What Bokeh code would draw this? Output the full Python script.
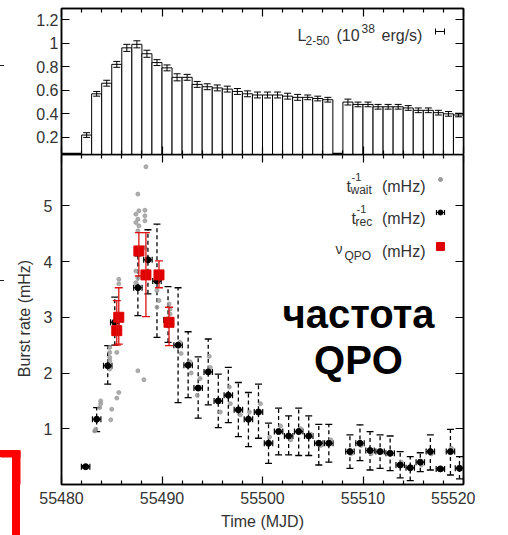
import math
from bokeh.plotting import figure
from bokeh.layouts import column, row
from bokeh.models import (ColumnDataSource, Whisker, TeeHead, Label, Div,
                          LinearAxis, FixedTicker, Range1d)
from bokeh.embed import file_html
from bokeh.resources import INLINE

# ---------------- data ----------------
x_ticks = [55480, 55490, 55500, 55510, 55520]
x_minor = [55482, 55484, 55486, 55488, 55492, 55494, 55496, 55498, 55502, 55504, 55506,
           55508, 55512, 55514, 55516, 55518]
top_ticks = [0.2, 0.4, 0.6, 0.8, 1.0, 1.2]
bot_ticks = [1, 2, 3, 4, 5]

lum_day = [55482.5, 55483.5, 55484.5, 55485.5, 55486.5, 55487.5, 55488.5, 55489.5,
           55490.5, 55491.5, 55492.5, 55493.5, 55494.5, 55495.5, 55496.5, 55497.5,
           55498.5, 55499.5, 55500.5, 55501.5, 55502.5, 55503.5, 55504.5, 55505.5,
           55506.5, 55508.5, 55509.5, 55510.5, 55511.5, 55512.5, 55513.5, 55514.5,
           55515.5, 55516.5, 55517.5, 55518.5, 55519.5]
lum_val = [0.22, 0.57, 0.66, 0.82, 0.96, 0.99, 0.91, 0.835,
           0.79, 0.71, 0.71, 0.65, 0.63, 0.62, 0.61, 0.59,
           0.57, 0.56, 0.56, 0.56, 0.55, 0.54, 0.54, 0.53,
           0.52, 0.50, 0.48, 0.48, 0.46, 0.46, 0.46, 0.45,
           0.43, 0.43, 0.41, 0.40, 0.39]
lum_err = [0.02, 0.02, 0.025, 0.025, 0.03, 0.03, 0.03, 0.025,
           0.025, 0.03, 0.025, 0.025, 0.025, 0.025, 0.025, 0.025,
           0.025, 0.025, 0.025, 0.025, 0.025, 0.025, 0.02, 0.02,
           0.02, 0.025, 0.02, 0.02, 0.02, 0.02, 0.02, 0.02,
           0.02, 0.02, 0.02, 0.02, 0.015]

rec_day = [55482.4, 55483.5, 55484.6, 55485.3, 55487.6, 55488.6, 55489.5, 55490.6,
           55491.6, 55492.6, 55493.6, 55494.6, 55495.6, 55496.6, 55497.6, 55498.6,
           55499.6, 55500.6, 55501.6, 55502.6, 55503.6, 55504.6, 55505.6, 55506.6,
           55508.7, 55509.7, 55510.7, 55511.7, 55512.7, 55513.7, 55514.7, 55515.7,
           55516.7, 55517.7, 55518.7, 55519.6]
rec_val = [0.32, 1.17, 2.13, 2.91, 3.53, 4.03, 3.65, 2.95,
           2.50, 2.14, 1.73, 2.02, 1.50, 1.60, 1.34, 1.17,
           1.30, 0.74, 0.95, 0.87, 0.95, 0.87, 0.74, 0.74,
           0.59, 0.74, 0.61, 0.59, 0.56, 0.35, 0.30, 0.40,
           0.59, 0.28, 0.59, 0.29]
rec_lo = [0.30, 0.95, 1.80, 2.50, 3.03, 3.42, 2.64, 2.55,
          1.47, 1.56, 1.19, 1.43, 1.02, 1.11, 0.86, 0.68,
          0.83, 0.38, 0.53, 0.53, 0.52, 0.52, 0.35, 0.40,
          0.29, 0.43, 0.26, 0.29, 0.25, 0.12, 0.07, 0.23,
          0.26, 0.26, 0.17, 0.10]
rec_hi = [0.34, 1.38, 2.49, 3.36, 4.10, 4.57, 4.67, 3.55,
          3.53, 2.74, 2.29, 2.61, 1.98, 2.10, 1.83, 1.65,
          1.80, 1.10, 1.37, 1.23, 1.37, 1.23, 1.08, 1.08,
          0.89, 1.07, 0.95, 0.89, 0.87, 0.59, 0.50, 0.57,
          0.89, 0.30, 0.99, 0.50]
rec_half_width = 0.42

qpo_day = [55485.5, 55485.7, 55487.7, 55488.4, 55489.7, 55490.7]
qpo_val = [2.76, 3.00, 4.19, 3.76, 3.76, 2.91]
qpo_lo = [2.50, 2.52, 3.74, 3.01, 3.53, 2.49]
qpo_hi = [3.30, 3.53, 4.52, 4.52, 4.01, 3.18]

wait_day = [55483.3, 55483.4, 55483.8, 55483.9, 55483.9,
            55484.9, 55485.0, 55485.5, 55485.7, 55484.8, 55484.8, 55484.8, 55484.8, 55484.8, 55485.5,
            55487.6, 55488.2, 55485.7, 55485.7,
            55487.4, 55487.6, 55487.4, 55487.4, 55487.4, 55487.6, 55487.7, 55487.6, 55487.7, 55487.6,
            55488.3, 55488.3, 55488.3, 55488.3, 55488.4,
            55489.5, 55489.7, 55489.5, 55490.7, 55490.8, 55490.8,
            55491.8, 55491.9, 55492.8, 55492.9, 55493.5, 55493.8, 55494.7, 55494.8, 55495.8,
            55496.7, 55496.8, 55497.8, 55498.7, 55499.8, 55500.7, 55501.8, 55502.8, 55503.8,
            55504.8, 55505.8, 55506.8, 55508.8, 55509.8, 55510.8, 55511.8, 55512.8, 55513.8,
            55515.8, 55516.8, 55518.8]
wait_val = [0.96, 0.99, 1.38, 1.45, 1.50,
            1.16, 1.35, 1.55, 1.65, 2.07, 2.22, 2.28, 2.37, 2.46, 2.37,
            2.04, 1.88, 3.60, 3.68,
            3.62, 3.71, 3.83, 4.70, 4.85, 4.55, 4.64, 4.76, 4.91, 5.21,
            4.92, 4.82, 4.73, 4.25, 5.70,
            3.48, 3.30, 3.18, 3.24, 3.15, 3.06,
            2.55, 2.35, 2.20, 2.00, 1.60, 1.90, 2.30, 2.10, 1.30,
            1.75, 1.45, 1.25, 1.30, 1.45, 0.85, 1.05, 0.80, 1.00,
            0.90, 0.70, 0.80, 0.55, 0.70, 0.55, 0.60, 0.55, 0.40,
            0.35, 0.55, 0.65]

# ---------------- layout constants (page pixels; Bokeh page has no body margin) ----------------
FL, FW = 61, 402
RB = 12
T_TOP, T_H = 8, 146
B_TOP, B_H = 154, 330
B_BOTTOM_BORDER = 50
SIDE_W = 34
X0, X1 = 55480, 55520
TY0, TY1 = 0.055, 1.294
BY0, BY1 = 0.0, 5.92

def px2day(x):
    return X0 + (x - FL) * (X1 - X0) / FW

def py2top(y):
    return TY1 - (y - T_TOP) * (TY1 - TY0) / T_H

def py2bot(y):
    return BY1 - (y - B_TOP) * (BY1 - BY0) / B_H

FONT = "Liberation Sans"
TXT = "#333333"

xr = Range1d(X0, X1)


def style_axis(ax, ticks, minor=None, labels=True, size="16px", standoff=6):
    ax.ticker = FixedTicker(ticks=ticks, minor_ticks=minor or [])
    ax.axis_line_color = "black"
    ax.axis_line_width = 1.5
    ax.major_tick_in = 8
    ax.major_tick_out = 0
    ax.minor_tick_in = 4
    ax.minor_tick_out = 0
    ax.major_tick_line_color = "black"
    ax.minor_tick_line_color = "black"
    ax.major_tick_line_width = 1.2
    ax.minor_tick_line_width = 1.2
    ax.major_label_text_font = FONT
    if labels:
        ax.major_label_text_color = TXT
        ax.major_label_text_font_size = size
        ax.major_label_standoff = standoff
    else:
        ax.major_label_text_color = None
        ax.major_label_text_alpha = 0
        ax.major_label_text_font_size = "0px"
        ax.major_label_standoff = 0


def base_fig(w, h, yr, left_border, top_border, bottom_border):
    p = figure(width=w, height=h, x_range=xr, y_range=yr, title=None,
               output_backend="svg", toolbar_location=None,
               min_border_left=left_border, min_border_right=RB,
               min_border_top=top_border, min_border_bottom=bottom_border,
               background_fill_color="white", border_fill_color="white")
    p.grid.visible = False
    p.outline_line_color = "black"
    p.outline_line_width = 1.5
    return p


def lab(p, x, y, text, size, align="left", bold=False, color=TXT, angle=0.0, baseline="alphabetic"):
    p.add_layout(Label(x=x, y=y, text=text, text_font=FONT, text_font_size=size,
                       text_align=align, text_baseline=baseline, text_color=color, angle=angle,
                       text_font_style="bold" if bold else "normal"))


def tee(size, color="black", width=1.2):
    return TeeHead(size=size, line_color=color, line_width=width)


# ---------------- top panel ----------------
p1 = base_fig(FL + FW + RB, T_TOP + T_H, Range1d(TY0, TY1), FL, T_TOP, 0)
style_axis(p1.xaxis[0], x_ticks, x_minor, labels=False)
style_axis(p1.yaxis[0], top_ticks, size="16px", standoff=3)
p1.yaxis[0].major_label_overrides = {0.2: "0.2", 0.4: "0.4", 0.6: "0.6", 0.8: "0.8", 1.0: "1", 1.2: "1.2"}
ax = LinearAxis(); style_axis(ax, x_ticks, x_minor, labels=False); p1.add_layout(ax, "above")
ax = LinearAxis(); style_axis(ax, top_ticks, labels=False); p1.add_layout(ax, "right")

lum_src = ColumnDataSource(dict(day=lum_day, val=lum_val,
                                lo=[v - e for v, e in zip(lum_val, lum_err)],
                                hi=[v + e for v, e in zip(lum_val, lum_err)]))
p1.vbar(x="day", top="val", bottom=0, width=1.0, source=lum_src,
        fill_color="white", line_color="black", line_width=1)
p1.add_layout(Whisker(source=lum_src, base="day", lower="lo", upper="hi", dimension="height",
                      line_color="black", line_width=1, level="glyph",
                      upper_head=tee(7, width=1), lower_head=tee(7, width=1)))

lab(p1, px2day(297), py2top(35), "L", "16px")
lab(p1, px2day(305), py2top(40), "2-50", "12px")
lab(p1, px2day(336), py2top(35), "(10", "16px")
lab(p1, px2day(361), py2top(28), "38", "12px")
lab(p1, px2day(381), py2top(35), "erg/s)", "16px")
key_src = ColumnDataSource(dict(y=[py2top(31)], lo=[px2day(435)], hi=[px2day(444)]))
p1.add_layout(Whisker(source=key_src, base="y", lower="lo", upper="hi", dimension="width",
                      line_color="black", line_width=1,
                      upper_head=tee(6, width=1), lower_head=tee(6, width=1)))

# ---------------- bottom panel ----------------
p2 = base_fig(FL - SIDE_W + FW + RB, B_H + B_BOTTOM_BORDER, Range1d(BY0, BY1),
              FL - SIDE_W, 0, B_BOTTOM_BORDER)
xbot = p2.xaxis[0]
ylef = p2.yaxis[0]
style_axis(xbot, x_ticks, x_minor, size="16px", standoff=7)
style_axis(ylef, bot_ticks, size="16px", standoff=9)
ax = LinearAxis(); style_axis(ax, x_ticks, x_minor, labels=False); p2.add_layout(ax, "above")
ax = LinearAxis(); style_axis(ax, bot_ticks, labels=False); p2.add_layout(ax, "right")
xbot.axis_label = "Time (MJD)"
xbot.axis_label_text_font = FONT
xbot.axis_label_text_font_size = "16px"
xbot.axis_label_text_font_style = "normal"
xbot.axis_label_text_color = TXT
xbot.axis_label_standoff = 6

p2.scatter(wait_day, wait_val, size=4, color="#9a9a9a", alpha=0.8)

rec_src = ColumnDataSource(dict(day=rec_day, val=rec_val, lo=rec_lo, hi=rec_hi,
                                xlo=[d - rec_half_width for d in rec_day],
                                xhi=[d + rec_half_width for d in rec_day]))
p2.add_layout(Whisker(source=rec_src, base="day", lower="lo", upper="hi", dimension="height",
                      line_color="black", line_width=1.3, line_dash="4 3",
                      upper_head=tee(7, width=1.3), lower_head=tee(7, width=1.3)))
p2.add_layout(Whisker(source=rec_src, base="val", lower="xlo", upper="xhi", dimension="width",
                      line_color="black", line_width=1.2,
                      upper_head=tee(6), lower_head=tee(6)))
p2.scatter("day", "val", source=rec_src, marker="circle", size=6, color="black")

qpo_src = ColumnDataSource(dict(day=qpo_day, val=qpo_val, lo=qpo_lo, hi=qpo_hi))
p2.add_layout(Whisker(source=qpo_src, base="day", lower="lo", upper="hi", dimension="height",
                      line_color="#dd1111", line_width=1.3, level="glyph",
                      upper_head=tee(8, "#dd1111", 1.3), lower_head=tee(8, "#dd1111", 1.3)))
p2.scatter("day", "val", source=qpo_src, marker="square", size=10, color="#e00000")

lab(p2, px2day(346), py2bot(186), "t", "16px")
lab(p2, px2day(351), py2bot(176), "-1", "11px")
lab(p2, px2day(350), py2bot(189), "wait", "12px")
lab(p2, px2day(425), py2bot(186), "(mHz)", "16px", align="right")
p2.scatter([px2day(440)], [py2bot(179)], size=4, color="#9a9a9a")

lab(p2, px2day(351), py2bot(218), "t", "16px")
lab(p2, px2day(356), py2bot(208), "-1", "11px")
lab(p2, px2day(355), py2bot(221), "rec", "12px")
lab(p2, px2day(425), py2bot(218), "(mHz)", "16px", align="right")
key2 = ColumnDataSource(dict(y=[py2bot(212)], x=[px2day(440)], lo=[px2day(436)], hi=[px2day(444)]))
p2.add_layout(Whisker(source=key2, base="y", lower="lo", upper="hi", dimension="width",
                      line_color="black", line_width=1.2,
                      upper_head=tee(5), lower_head=tee(5)))
p2.scatter("x", "y", source=key2, size=5, color="black")

lab(p2, px2day(335), py2bot(248), "\u03bd", "14px")
lab(p2, px2day(344), py2bot(255), "QPO", "12px")
lab(p2, px2day(425), py2bot(251), "(mHz)", "16px", align="right")
p2.scatter([px2day(440)], [py2bot(246)], marker="square", size=8, color="#e00000")

lab(p2, px2day(358), py2bot(313), "частота", "40px", align="center", bold=True, color="black")
lab(p2, px2day(358), py2bot(359), "QPO", "40px", align="center", bold=True, color="black")

# ---------------- left strip: y-axis title (frame is aligned with the bottom panel's frame) ----------------
side = figure(width=SIDE_W, height=B_H + B_BOTTOM_BORDER, x_range=Range1d(0, SIDE_W), y_range=Range1d(B_H, 0),
              title=None, output_backend="svg", toolbar_location=None,
              x_axis_location=None, y_axis_location=None,
              min_border=0, min_border_left=0, min_border_right=0, min_border_top=0,
              min_border_bottom=B_BOTTOM_BORDER,
              background_fill_color="white", border_fill_color="white")
side.grid.visible = False
side.outline_line_color = None
lab(side, 24, 318 - B_TOP, "Burst rate (mHz)", "16px", align="center",
    angle=math.pi / 2, baseline="middle")
side.quad(left=[12, 0], right=[20, 20], top=[450 - B_TOP, 450 - B_TOP], bottom=[B_H + 5, 457 - B_TOP],
          fill_color="#ff0000", line_color=None)

# red bracket of the slide (full extent) and two small slide remnants at the left edge
bracket = Div(text=('<div style="position:fixed;left:12px;top:450px;width:8px;height:90px;'
                    'background:#ff0000"></div>'
                    '<div style="position:fixed;left:0px;top:450px;width:20px;height:7px;'
                    'background:#ff0000"></div>'
                    '<div style="position:fixed;left:0px;top:65px;width:4px;height:1px;'
                    'background:#222"></div>'
                    '<div style="position:fixed;left:0px;top:280px;width:4px;height:1px;'
                    'background:#222"></div>'), width=1, height=1)

layout = column(p1, row(side, p2, spacing=0), bracket, spacing=0)
open("out.html", "w").write(file_html(layout, INLINE))
